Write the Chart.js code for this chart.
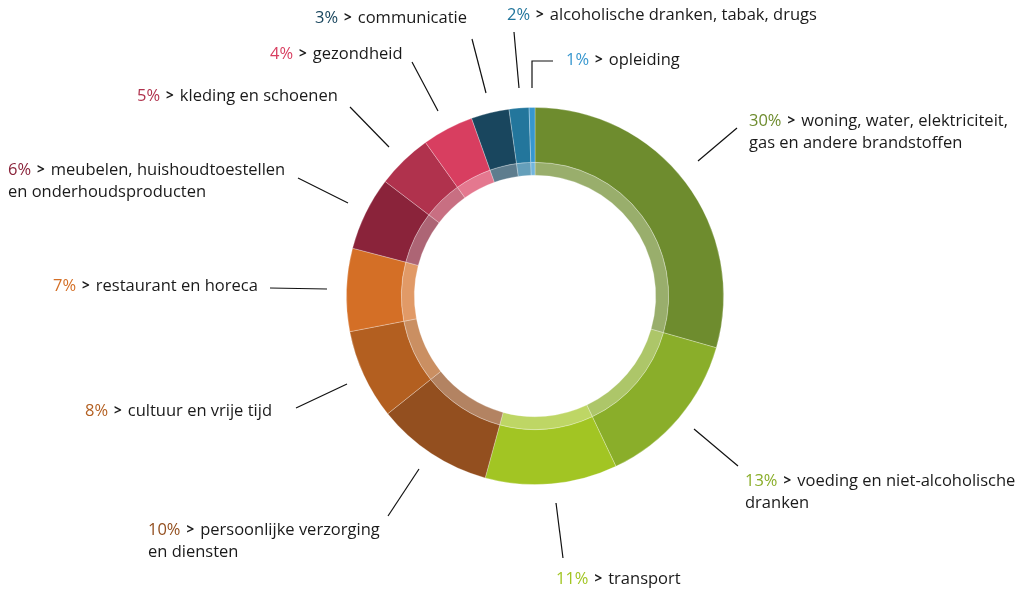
<!DOCTYPE html>
<html>
<head>
<meta charset="utf-8">
<script src="https://cdn.jsdelivr.net/npm/chart.js@4"></script>
<style>
  body { margin: 0; background: #fff; }
  #wrap { width: 1029px; height: 590px; position: relative; }
</style>
</head>
<body>
<div id="wrap"><canvas id="myChart"></canvas></div>
<script>
// categories, clockwise from the top
const categories = [
  ["woning, water, elektriciteit,", "gas en andere brandstoffen"],
  ["voeding en niet-alcoholische", "dranken"],
  ["transport"],
  ["persoonlijke verzorging", "en diensten"],
  ["cultuur en vrije tijd"],
  ["restaurant en horeca"],
  ["meubelen, huishoudtoestellen", "en onderhoudsproducten"],
  ["kleding en schoenen"],
  ["gezondheid"],
  ["communicatie"],
  ["alcoholische dranken, tabak, drugs"],
  ["opleiding"]
];
const shares = [29.4, 13.5, 11.3, 10.0, 7.7, 7.1, 6.3, 4.75, 4.4, 3.25, 1.7, 0.5];
// percentages as printed in the labels
const pctLabels = ["30%", "13%", "11%", "10%", "8%", "7%", "6%", "5%", "4%", "3%", "2%", "1%"];

const colors = [
  [110, 140, 46], [138, 174, 42], [162, 197, 35], [147, 79, 31],
  [179, 95, 32], [212, 111, 38], [138, 35, 58], [176, 50, 77],
  [216, 62, 96], [25, 70, 94], [35, 118, 156], [55, 151, 207]
];
const rgb = (c, a) => 'rgba(' + c[0] + ',' + c[1] + ',' + c[2] + ',' + a + ')';

// where each callout goes: text anchor and leader line
const callouts = [
  { x: 749, y: 121, line: [[698, 161], [737, 128]] },
  { x: 745, y: 481, line: [[694, 429], [738, 466]] },
  { x: 556, y: 579, line: [[556, 503], [563, 558]] },
  { x: 148, y: 530, line: [[419, 469], [388, 516]] },
  { x: 85,  y: 411, line: [[347, 384], [296, 408]] },
  { x: 53,  y: 286, line: [[327, 289], [270, 288]] },
  { x: 8,   y: 170, line: [[348, 203], [298, 178]] },
  { x: 137, y: 96,  line: [[389, 147], [350, 107]] },
  { x: 270, y: 54,  line: [[438, 111], [412, 62]] },
  { x: 315, y: 18,  line: [[486, 93], [472, 39]] },
  { x: 507, y: 15,  line: [[519, 88], [514, 32]] },
  { x: 566, y: 60,  line: [[532, 88], [532, 61], [553, 61]] }
];

const FONT = '16.5px "Open Sans", sans-serif';

const calloutPlugin = {
  id: 'callouts',
  afterDraw(chart) {
    const ctx = chart.ctx;
    ctx.save();
    ctx.strokeStyle = '#111';
    ctx.lineWidth = 1.2;
    callouts.forEach((c) => {
      ctx.beginPath();
      c.line.forEach((p, i) => i ? ctx.lineTo(p[0], p[1]) : ctx.moveTo(p[0], p[1]));
      ctx.stroke();
    });
    ctx.textBaseline = 'middle';
    ctx.textAlign = 'left';
    pctLabels.forEach((pct, i) => {
      const c = callouts[i];
      ctx.font = FONT;
      ctx.fillStyle = rgb(colors[i], 1);
      ctx.fillText(pct, c.x, c.y);
      let x = c.x + ctx.measureText(pct).width + 6;
      ctx.fillStyle = '#1a1a1a';
      ctx.font = 'bold 13.5px "Open Sans", sans-serif';
      ctx.fillText('>', x, c.y);
      x += ctx.measureText('>').width + 6;
      ctx.font = FONT;
      ctx.fillText(categories[i][0], x, c.y);
      for (let k = 1; k < categories[i].length; k++) {
        ctx.fillText(categories[i][k], c.x, c.y + 22 * k);
      }
    });
    ctx.restore();
  }
};

const ctx = document.getElementById('myChart');
new Chart(ctx, {
  type: 'doughnut',
  data: {
    labels: categories.map((c) => c.join(' ')),
    datasets: [
      {
        data: shares,
        backgroundColor: colors.map((c) => rgb(c, 1)),
        borderColor: 'rgba(255,255,255,0.35)',
        borderWidth: 0.8,
        weight: 55
      },
      {
        data: shares,
        backgroundColor: colors.map((c) => rgb(c, 0.7)),
        borderColor: 'rgba(255,255,255,0.35)',
        borderWidth: 0.8,
        weight: 13
      }
    ]
  },
  options: {
    responsive: true,
    maintainAspectRatio: false,
    animation: false,
    cutout: '64%',
    layout: { padding: { top: 107, bottom: 105, left: 346, right: 305 } },
    plugins: {
      legend: { display: false },
      tooltip: { enabled: false }
    }
  },
  plugins: [calloutPlugin]
});
</script>
</body>
</html>
